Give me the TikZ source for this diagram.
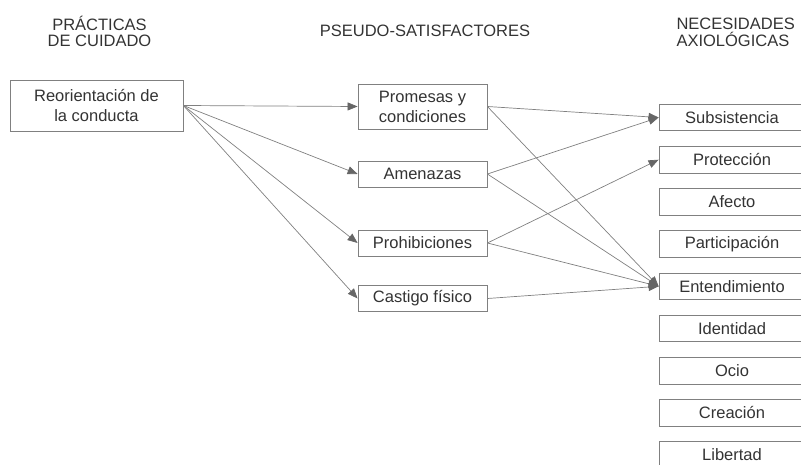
\documentclass[tikz,border=0pt]{standalone}
\usepackage{fontspec}
\setmainfont{Liberation Sans}
\usetikzlibrary{arrows.meta,positioning}

\begin{document}
\begin{tikzpicture}[
    x=1pt, y=-1pt,
    every node/.style={font=\fontsize{16.5}{20}\selectfont, text=black!80},
    box/.style={rectangle, draw=black!50, line width=0.8pt, align=center, inner sep=0pt},
    practice/.style={box, minimum width=173pt, minimum height=51pt},
    pseudo/.style={box, minimum width=129pt, minimum height=26pt},
    need/.style={box, minimum width=146pt, minimum height=26.5pt},
    head/.style={align=center, font=\fontsize{16.5}{16.7}\selectfont},
    flow/.style={draw=black!50, line width=0.7pt, -{Triangle[length=10pt,width=8pt,color=black!60,fill=black!60]}}
]
\useasboundingbox (0,0) rectangle (801,465);
\clip (0,0) rectangle (801,465);

\node[head] (hprac) at (99.5,31.5) {PRÁCTICAS\\DE CUIDADO};
\node[head] (hpseudo) at (425,30.5) {PSEUDO-SATISFACTORES};
\node[head, anchor=west, align=left] (hneces) at (673,32.5) {NECESIDADES\\AXIOLÓGICAS};

\node[practice] (reo) at (96.5,105.5) {Reorientación de\\la conducta};

\node[pseudo, minimum height=45pt] (prom) at (422.5,106.5) {Promesas y\\condiciones};
\node[pseudo] (amen) at (422.5,174) {Amenazas};
\node[pseudo] (proh) at (422.5,243) {Prohibiciones};
\node[pseudo] (cast) at (422.5,298.5) {Castigo físico};

\foreach \n [count=\i] in {Subsistencia,Protección,Afecto,Participación,Entendimiento,Identidad,Ocio,Creación,Libertad}
    \node[need] (n\i) at (732,75.3+42.2*\i) {\n};

\foreach \t in {prom,amen,proh,cast}
    \draw[flow] (reo.east) -- (\t.west);

\draw[flow] (prom.east) -- (n1.west);
\draw[flow] (prom.east) -- (n5.west);
\draw[flow] (amen.east) -- (n1.west);
\draw[flow] (amen.east) -- (n5.west);
\draw[flow] (proh.east) -- (n2.west);
\draw[flow] (proh.east) -- (n5.west);
\draw[flow] (cast.east) -- (n5.west);
\end{tikzpicture}
\end{document}
